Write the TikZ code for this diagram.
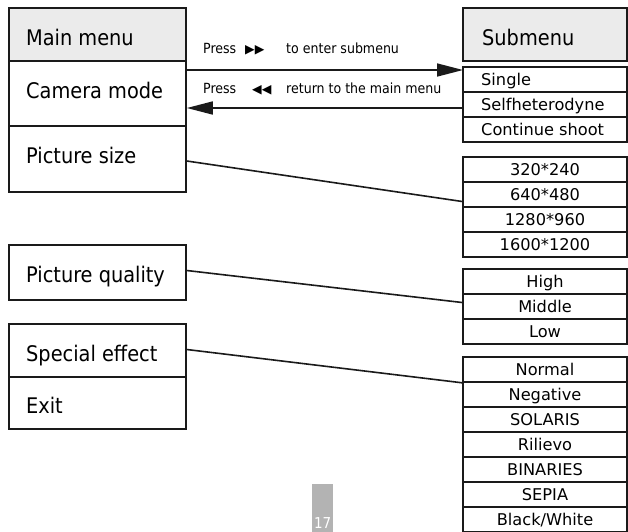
\documentclass[tikz,border=0pt]{standalone}
\usepackage{fontspec}
\newfontfamily\cond{DejaVu Sans Condensed}
\newfontfamily\dv{DejaVu Sans}
\usetikzlibrary{arrows.meta}
\definecolor{hdr}{HTML}{EBEBEB}
\definecolor{ink}{HTML}{1A1A1A}
\definecolor{pg}{HTML}{B3B3B3}
\tikzset{
  box/.style={draw=ink, line width=1.6pt, rectangle, inner sep=0pt},
  lbox/.style={box, minimum width=177pt},
  rbox/.style={box, minimum width=164pt, minimum height=25pt},
  hdrbox/.style={box, fill=hdr},
  bigtxt/.style={inner sep=0pt, anchor=base west, font=\cond\fontsize{21.5pt}{24pt}\selectfont},
  smltxt/.style={inner sep=0pt, font=\dv\fontsize{16.2pt}{18pt}\selectfont},
  presstxt/.style={inner sep=0pt, anchor=base west, font=\cond\fontsize{14pt}{16pt}\selectfont},
  conn/.style={draw=ink, line width=1.6pt},
  arr/.style={conn, -{Triangle[length=26pt,width=13pt]}},
}
\newcommand{\tri}[1]{{\dv\fontsize{12.5pt}{13pt}\selectfont #1}}
\begin{document}
\begin{tikzpicture}[x=1pt,y=-1pt]
\useasboundingbox (0,0) rectangle (628,531);
% left boxes
\node[lbox, hdrbox, minimum height=53pt] (mm) at (97.5,34.5) {};
\node[lbox, minimum height=65pt] (cam) at (97.5,93.5) {};
\node[lbox, minimum height=66pt] (psize) at (97.5,159) {};
\node[lbox, minimum height=55pt] (pq) at (97.5,272.5) {};
\node[lbox, minimum height=53pt] (se) at (97.5,350.5) {};
\node[lbox, minimum height=52pt] (exit) at (97.5,403) {};
\node[bigtxt] (tmm) at (26,45) {Main menu};
\node[bigtxt] (tcam) at (26,98) {Camera mode};
\node[bigtxt] (tpsize) at (26,163) {Picture size};
\node[bigtxt] (tpq) at (26,282) {Picture quality};
\node[bigtxt] (tse) at (26,361) {Special effect};
\node[bigtxt] (texit) at (26,413) {Exit};
% right boxes
\node[box, hdrbox, minimum width=164pt, minimum height=53pt] (sub) at (545,34.5) {};
\node[bigtxt] (tsub) at (482,45) {Submenu};
\node[rbox] (single) at (545,79.5) {};
\node[rbox] (selfh) at (545,104.5) {};
\node[rbox] (cont) at (545,129.5) {};
\node[smltxt, anchor=base west] (tsingle) at (481,85) {Single};
\node[smltxt, anchor=base west] (tselfh) at (481,110) {Selfheterodyne};
\node[smltxt, anchor=base west] (tcont) at (481,135) {Continue shoot};
\foreach \n/\t [count=\i from 0] in {s1/320*240, s2/640*480, s3/1280*960, s4/1600*1200}{
  \node[rbox] (\n) at (545,169.5+25*\i) {};
  \node[smltxt, anchor=base] (t\n) at (545,175+25*\i) {\t};
}
\foreach \n/\t [count=\i from 0] in {q1/High, q2/Middle, q3/Low}{
  \node[rbox] (\n) at (545,281.5+25*\i) {};
  \node[smltxt, anchor=base] (t\n) at (545,287+25*\i) {\t};
}
\foreach \n/\t [count=\i from 0] in {e1/Normal, e2/Negative, e3/SOLARIS, e4/Rilievo, e5/BINARIES, e6/SEPIA, e7/Black\slash White}{
  \node[rbox] (\n) at (545,369.5+25*\i) {};
  \node[smltxt, anchor=base] (t\n) at (545,375+25*\i) {\t};
}
% arrows
\coordinate (a1) at (463,70);
\coordinate (a2) at (463,108);
\draw[arr] (a1 -| cam.east) -- (a1);
\draw[arr] (a2) -- (a2 -| cam.east);
\node[presstxt] (p1) at (203,53) {\makebox[42pt][l]{Press}\makebox[41pt][l]{\tri{▶▶}}to enter submenu};
\node[presstxt] (p2) at (203,93) {\makebox[49pt][l]{Press}\makebox[34pt][l]{\tri{◀◀}}return to the main menu};
% connectors
\draw[conn] ([yshift=-2pt]psize.east) -- ([yshift=-7pt]s2.west);
\draw[conn] ([yshift=2pt]pq.east) -- ([yshift=4pt]q2.west);
\draw[conn] ([yshift=1pt]se.east) -- (e1.south west);
% page number
\node[fill=pg, minimum width=21pt, minimum height=50pt, inner sep=0pt, anchor=north west] (pgbox) at (312,484) {};
\node[inner sep=0pt, anchor=base, text=white, font=\cond\fontsize{15pt}{16pt}\selectfont] (pgnum) at (pgbox.south |- 0,528.5) {17};
\end{tikzpicture}
\end{document}
